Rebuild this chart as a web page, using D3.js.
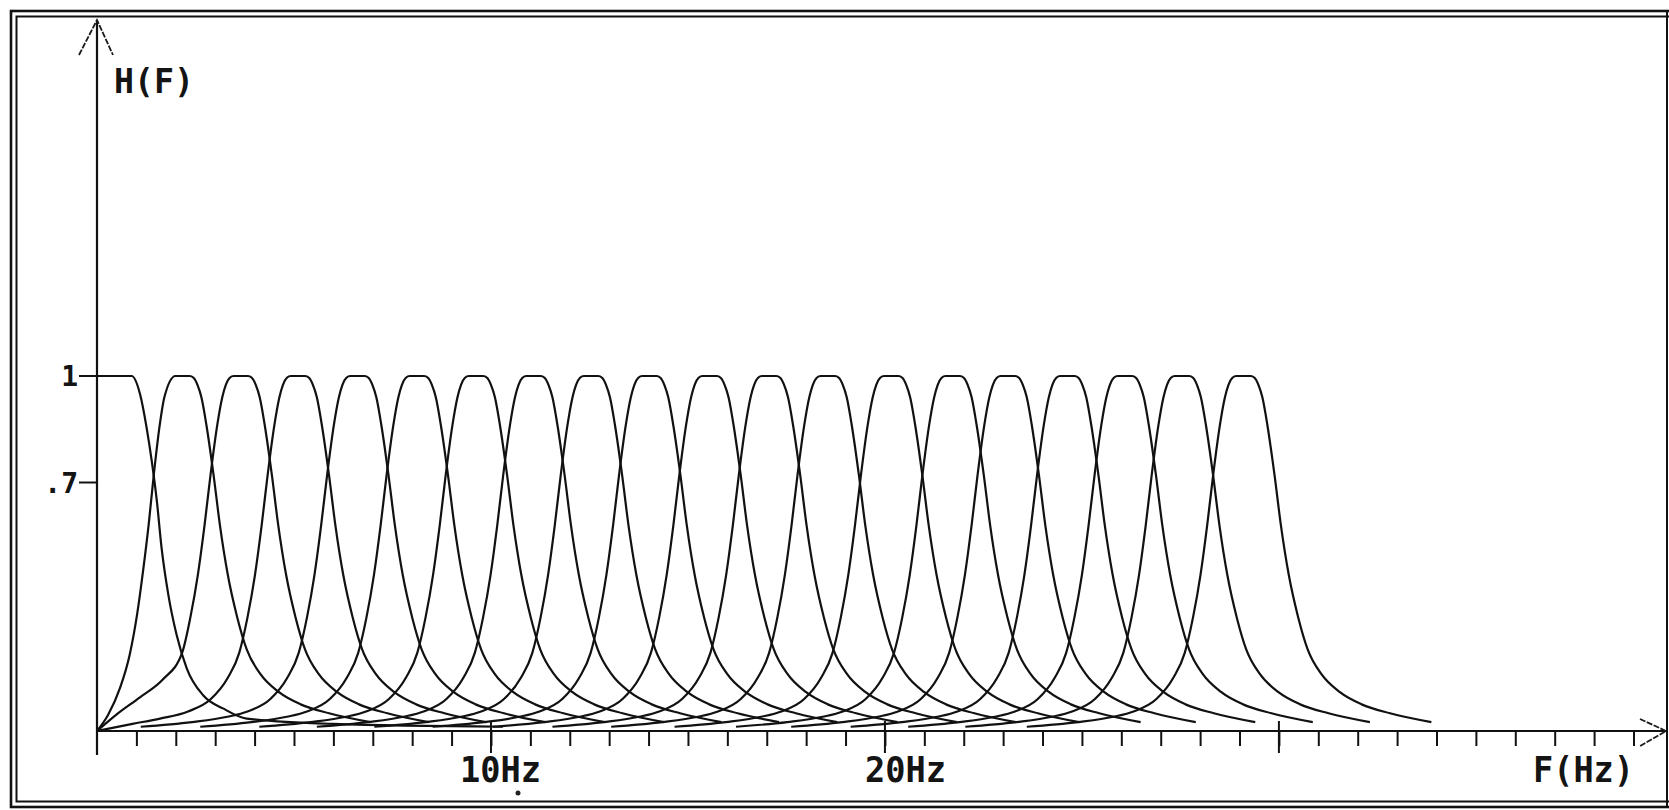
<!DOCTYPE html>
<html>
<head>
<meta charset="utf-8">
<script src="https://cdn.jsdelivr.net/npm/d3@7"></script>
<style>
  body { margin: 0; background: #fff; }
  svg { display: block; }
  text { font-family: "DejaVu Sans Mono", monospace; font-weight: bold; fill: #141414; }
</style>
</head>
<body>
<svg></svg>
<script>
// centre frequency of each band-pass filter, Hz
const centers = [2.17, 3.65, 5.10, 6.61, 8.12, 9.62, 11.08, 12.54, 14.02, 15.55,
                 17.06, 18.55, 20.16, 21.72, 23.12, 24.63, 26.09, 27.54, 29.10];

// first filter, the low-pass one sitting on the axis: [F, H]
const lowpass = [[0, 1], [0.88, 1], [1.09, 0.95], [1.26, 0.854], [1.39, 0.76], [1.52, 0.647],
                 [1.64, 0.515], [1.81, 0.384], [2.02, 0.271], [2.28, 0.176], [2.70, 0.10],
                 [3.21, 0.063], [3.80, 0.035], [6.0, 0.02], [10.3, 0.012]];

// band-pass response: [offset from centre in Hz, H]
const bandShape = [[-5.5, 0.012], [-4.2, 0.025], [-3.30, 0.04], [-2.79, 0.055], [-2.21, 0.09],
                   [-1.78, 0.15], [-1.49, 0.22], [-1.28, 0.32], [-1.09, 0.44], [-0.92, 0.58],
                   [-0.77, 0.72], [-0.60, 0.86], [-0.47, 0.94], [-0.38, 0.975], [-0.28, 0.995],
                   [-0.18, 1], [0.18, 1], [0.28, 0.995], [0.38, 0.975], [0.48, 0.94],
                   [0.61, 0.86], [0.79, 0.72], [0.95, 0.58], [1.15, 0.44], [1.39, 0.32],
                   [1.63, 0.23], [1.98, 0.16], [2.44, 0.11], [3.0, 0.075], [3.72, 0.05],
                   [4.77, 0.025]];

// the first band-pass curves bend down into the origin: [F, H]
const earlyTails = [
    [[0, 0], [0.28, 0.045], [0.58, 0.12], [0.83, 0.215], [1.02, 0.33], [1.18, 0.46],
     [1.31, 0.58], [1.44, 0.72], [1.59, 0.86], [1.71, 0.94]],
    [[0, 0], [0.50, 0.047], [1.09, 0.095], [1.67, 0.145]],
    [[0, 0], [0.90, 0.02], [1.60, 0.035]]
];

const yTicks = [{ v: 1, label: "1" }, { v: 0.7, label: ".7" }];
const xMajor = [{ f: 10, label: "10Hz" }, { f: 20, label: "20Hz" }, { f: 30, label: "" }];
const xMinor = d3.range(1, 40);

let svg = d3.select("svg").attr("width", 1669).attr("height", 810);

let x = d3.scaleLinear().domain([0, 39.8]).range([97, 1665]);
let y = d3.scaleLinear().domain([0, 1]).range([731, 376]);

// frame of the printout
let frame = svg.append("g").style("fill", "none").style("stroke", "#111");
frame.append("rect").attr("x", 11).attr("y", 11).attr("width", 1700).attr("height", 796).style("stroke-width", 2.6);
frame.append("rect").attr("x", 16.5).attr("y", 16.5).attr("width", 1700).attr("height", 785).style("stroke-width", 2);
frame.append("line").attr("x1", 1667).attr("y1", 11).attr("x2", 1667).attr("y2", 807).style("stroke-width", 2);

// curves
let line = d3.line().x(d => x(d[0])).y(d => y(d[1])).curve(d3.curveMonotoneX);

let curves = [lowpass];
centers.forEach((fc, i) => {
    let pts = bandShape.map(p => [fc + p[0], p[1]]);
    let tail = earlyTails[i];
    if (tail) {
        let last = tail[tail.length - 1][0];
        pts = tail.concat(pts.filter(p => p[0] > last + 0.25));
    } else {
        pts = pts.filter(p => p[0] > 0);
    }
    curves.push(pts);
});

svg.append("g")
    .selectAll("path")
    .data(curves)
    .join("path")
    .attr("d", line)
    .style("fill", "none")
    .style("stroke", "#111")
    .style("stroke-width", 2.2);

// axes
let axes = svg.append("g").style("stroke", "#111").style("stroke-width", 2.2);
axes.append("line").attr("x1", x(0)).attr("y1", 20).attr("x2", x(0)).attr("y2", 755);
axes.append("line").attr("x1", x(0)).attr("y1", y(0)).attr("x2", 1666).attr("y2", y(0));

let arrows = svg.append("g").style("fill", "none").style("stroke", "#1a1a1a").style("stroke-width", 1.8).style("stroke-dasharray", "6 1.5");
arrows.append("path").attr("d", `M${x(0) - 18},55 L${x(0)},20 L${x(0) + 16},55`);
arrows.append("path").attr("d", `M1640,${y(0) - 12} L1666,${y(0)} L1640,${y(0) + 15}`);

let xAxis = d3.axisBottom(x).tickValues(xMinor).tickSize(15).tickFormat("");
let gx = svg.append("g").attr("transform", `translate(0,${y(0)})`).call(xAxis);
gx.select(".domain").remove();
gx.selectAll(".tick line").style("stroke", "#111").style("stroke-width", 2);

svg.append("g")
    .selectAll("line")
    .data(xMajor)
    .join("line")
    .attr("x1", d => x(d.f)).attr("x2", d => x(d.f))
    .attr("y1", y(0) - 10).attr("y2", y(0) + 22)
    .style("stroke", "#111").style("stroke-width", 2);

// y ticks and labels
let gy = svg.append("g");
gy.selectAll("line")
    .data(yTicks)
    .join("line")
    .attr("x1", x(0) - 18).attr("x2", x(0))
    .attr("y1", d => y(d.v)).attr("y2", d => y(d.v))
    .style("stroke", "#111").style("stroke-width", 2);
gy.selectAll("text")
    .data(yTicks)
    .join("text")
    .attr("x", 78)
    .attr("y", d => y(d.v) + 10)
    .attr("text-anchor", "end")
    .style("font-size", "28px")
    .text(d => d.label);

// x labels
const labelShift = { 10: -31, 20: -20 };
svg.append("g")
    .selectAll("text")
    .data(xMajor.filter(d => d.label))
    .join("text")
    .attr("x", d => x(d.f) + labelShift[d.f])
    .attr("y", 782)
    .attr("textLength", 81)
    .attr("lengthAdjust", "spacingAndGlyphs")
    .style("font-size", "36px")
    .text(d => d.label);

svg.append("text").attr("x", 1533).attr("y", 782)
    .attr("textLength", 101).attr("lengthAdjust", "spacingAndGlyphs")
    .style("font-size", "36px").text("F(Hz)");

svg.append("text").attr("x", 114).attr("y", 93)
    .attr("textLength", 80).attr("lengthAdjust", "spacingAndGlyphs")
    .style("font-size", "34px").text("H(F)");

// speck under 10Hz on the scan
svg.append("circle").attr("cx", 518).attr("cy", 793).attr("r", 2.5).style("fill", "#222");
</script>
</body>
</html>
